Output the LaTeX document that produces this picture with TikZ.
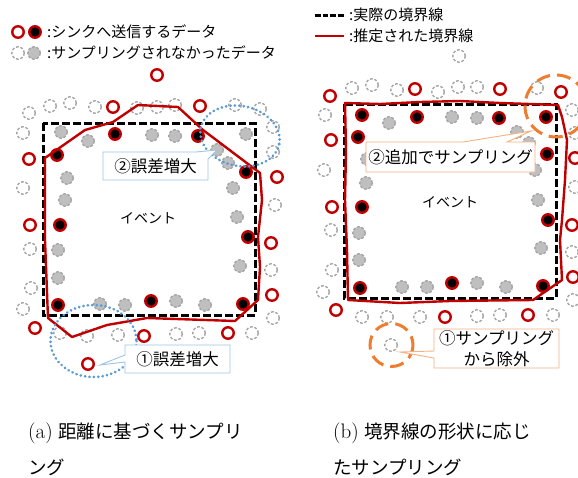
\documentclass[tikz,border=0pt]{standalone}
\usepackage{fontspec}
\newfontfamily\jp{Noto Sans CJK JP}
\definecolor{dred}{HTML}{C00000}
\definecolor{gline}{HTML}{A6A6A6}
\definecolor{gfill}{HTML}{BFBFBF}
\definecolor{blu}{HTML}{5B9BD5}
\definecolor{blul}{HTML}{9DC3E6}
\definecolor{org}{HTML}{ED7D31}
\definecolor{orgl}{HTML}{F4B183}
\tikzset{
  dot/.style={circle, minimum size=11.5pt, inner sep=0pt, outer sep=0pt},
  rc/.style={dot, draw=dred, line width=2.4pt},
  bc/.style={dot, draw=dred, line width=2.4pt, fill=black},
  go/.style={dot, minimum size=12.4pt, draw=gline, line width=1.4pt, dash pattern=on 2.7pt off 1.8pt},
  gf/.style={dot, minimum size=12.4pt, draw=gline, line width=1.4pt, dash pattern=on 2.7pt off 1.8pt, fill=gfill},
  truebd/.style={draw=black, line width=3pt, dash pattern=on 8pt off 3pt},
  estbd/.style={draw=dred, line width=2.4pt, line join=round},
  bluering/.style={draw=blu, line width=3pt, line cap=round, dash pattern=on 0.01pt off 4.4pt},
  orgring/.style={draw=org, line width=3pt, dash pattern=on 14pt off 7pt},
  callb/.style={draw=blul, line width=0.9pt, fill=white},
  callo/.style={draw=orgl, line width=0.9pt, fill=white},
  legtxt/.style={anchor=west, inner sep=0pt, font=\jp\fontsize{15}{18}\selectfont},
  evtxt/.style={inner sep=0pt, font=\jp\fontsize{14}{16}\selectfont},
  calltxt/.style={inner sep=0pt, font=\jp\fontsize{16.5}{21}\selectfont, align=center},
  captxt/.style={anchor=west, inner sep=0pt, font=\fontsize{18.5}{22}\selectfont},
}
\begin{document}
\begin{tikzpicture}[x=1pt,y=-1pt]
\useasboundingbox (0,0) rectangle (578,477);

% ---------- legends ----------
\node[rc] (lg1) at (18,32) {};
\node[bc] (lg2) at (35,32) {};
\node[legtxt] (lt1) at (47,32) {:シンクへ送信するデータ};
\node[go] (lg3) at (18,53) {};
\node[gf] (lg4) at (34,53) {};
\node[legtxt] (lt2) at (47,53) {:サンプリングされなかったデータ};

\coordinate (dl1) at (315,15); \coordinate (dl2) at (344,15);
\draw[draw=black, line width=3pt, dash pattern=on 5.5pt off 2.2pt] (dl1) -- (dl2);
\node[legtxt] (lt3) at (349,15) {:実際の境界線};
\coordinate (rl1) at (315,36); \coordinate (rl2) at (344,36);
\draw[estbd] (rl1) -- (rl2);
\node[legtxt] (lt4) at (349,36) {:推定された境界線};

% ---------- panel (a) ----------
\draw[truebd] (43,123) rectangle (255,315);

\foreach \p [count=\i] in {(157,75),(113,107),(200,106),(29,159),(30,225),(277,177),(271,243),(272,295),(35,328),(144,336),(228,333),(88,364)}
  \node[rc] (ra\i) at \p {};
\foreach \p [count=\i] in {(115,134),(198,136),(57,155),(246,172),(60,225),(248,237),(58,305),(151,301),(243,304)}
  \node[bc] (ba\i) at \p {};
\foreach \p [count=\i] in {(29,113),(50,106),(70,103),(95,107),(137,108),(157,107),(175,105),(235,105),(260,109),(273,127),(273,152),(23,133),(23,188),(275,205),(30,249),(271,270),(31,288),(23,309),(273,318),(60,333),(87,336),(118,335),(176,334),(199,333),(252,333)}
  \node[go] (oa\i) at \p {};
\foreach \p [count=\i] in {(61,132),(88,141),(152,135),(175,136),(246,134),(217,150),(228,163),(67,178),(65,200),(233,188),(237,217),(58,250),(58,278),(240,266),(100,304),(125,305),(176,301),(205,305)}
  \node[gf] (fa\i) at \p {};

\draw[estbd] (45,158) -- (85,130) -- (113,122) -- (138,105) -- (178,107) -- (203,130) -- (260,173) -- (262,200) -- (258,237) -- (260,267) -- (258,300) -- (235,321) -- (147,318) -- (107,325) -- (72,337) -- (48,318) -- (45,240) -- cycle;

\node[evtxt] (eva) at (148,218) {イベント};

\draw[bluering, rotate around={-12:(240,136)}] (240,136) ellipse [x radius=40, y radius=30];
\draw[bluering] (93.5,341) ellipse [x radius=43, y radius=36];

% callout 2 (a)
\draw[callb] (103,152) -- (196,152) -- (217,150) -- (208,159) -- (208,180) -- (103,180) -- cycle;
\node[calltxt] (ca2) at (155.5,166) {②誤差増大};
% callout 1 (a)
\draw[callb] (125,345) -- (230,345) -- (230,373) -- (125,373) -- (125,362) -- (100,365) -- (125,355) -- cycle;
\node[calltxt] (ca1) at (177.5,359) {①誤差増大};

% ---------- panel (b) ----------
\draw[truebd] (344,104) rectangle (556,298);

\foreach \p [count=\i] in {(330,96),(415,89),(500,89),(561,92),(331,140),(332,207),(575,158),(572,225),(573,277),(336,310),(445,317),(528,315)}
  \node[rc] (rb\i) at \p {};
\foreach \p [count=\i] in {(362,115),(417,117),(499,118),(546,117),(358,137),(547,154),(362,207),(548,220),(360,288),(452,283),(543,286)}
  \node[bc] (bb\i) at \p {};
\foreach \p [count=\i] in {(459,56),(352,88),(372,85),(397,90),(438,92),(458,87),(477,87),(537,88),(325,115),(324,170),(572,110),(575,133),(575,187),(331,230),(572,252),(332,270),(323,292),(573,300),(362,317),(387,317),(420,317),(477,316),(500,315),(553,315),(391,345)}
  \node[go] (ob\i) at \p {};
\foreach \p [count=\i] in {(389,123),(452,117),(477,118),(517,132),(529,143),(367,159),(535,170),(366,183),(538,200),(359,233),(359,260),(541,248),(402,287),(427,287),(477,283),(506,287)}
  \node[gf] (fb\i) at \p {};

\draw[estbd] (345,103) -- (380,104) -- (420,102) -- (460,101) -- (500,103) -- (530,104) -- (558,105) -- (562,117) -- (567,140) -- (565,180) -- (562,220) -- (560,240) -- (562,280) -- (533,300) -- (450,301) -- (400,303) -- (348,300) -- (347,250) -- (345,200) -- (346,150) -- cycle;

\node[evtxt] (evb) at (450,202) {イベント};

\draw[orgring] (556,106) circle [radius=31];
\draw[orgring] (391.5,345) circle [radius=21.5];

% callout 2 (b)
\draw[callo] (366,142) -- (463,142) -- (531,131) -- (507,142) -- (535,142) -- (535,172) -- (366,172) -- cycle;
\node[calltxt] (cb2) at (450.5,157) {②追加でサンプリング};
% callout 1 (b)
\draw[callo] (434,329) -- (559,329) -- (559,368) -- (434,368) -- (434,358) -- (400,352) -- (434,351) -- cycle;
\node[calltxt] (cb1) at (496.5,349) {①サンプリング\\から除外};

% ---------- captions ----------
\node[captxt] (cap1) at (28,433) {{\fontsize{21}{22}\selectfont(a)} {\jp 距離に基づくサンプリ}};
\node[captxt] (cap2) at (28,467) {\jp ング};
\node[captxt] (cap3) at (333,433) {{\fontsize{21}{22}\selectfont(b)} {\jp 境界線の形状に応じ}};
\node[captxt] (cap4) at (333,467) {\jp たサンプリング};
\end{tikzpicture}
\end{document}
